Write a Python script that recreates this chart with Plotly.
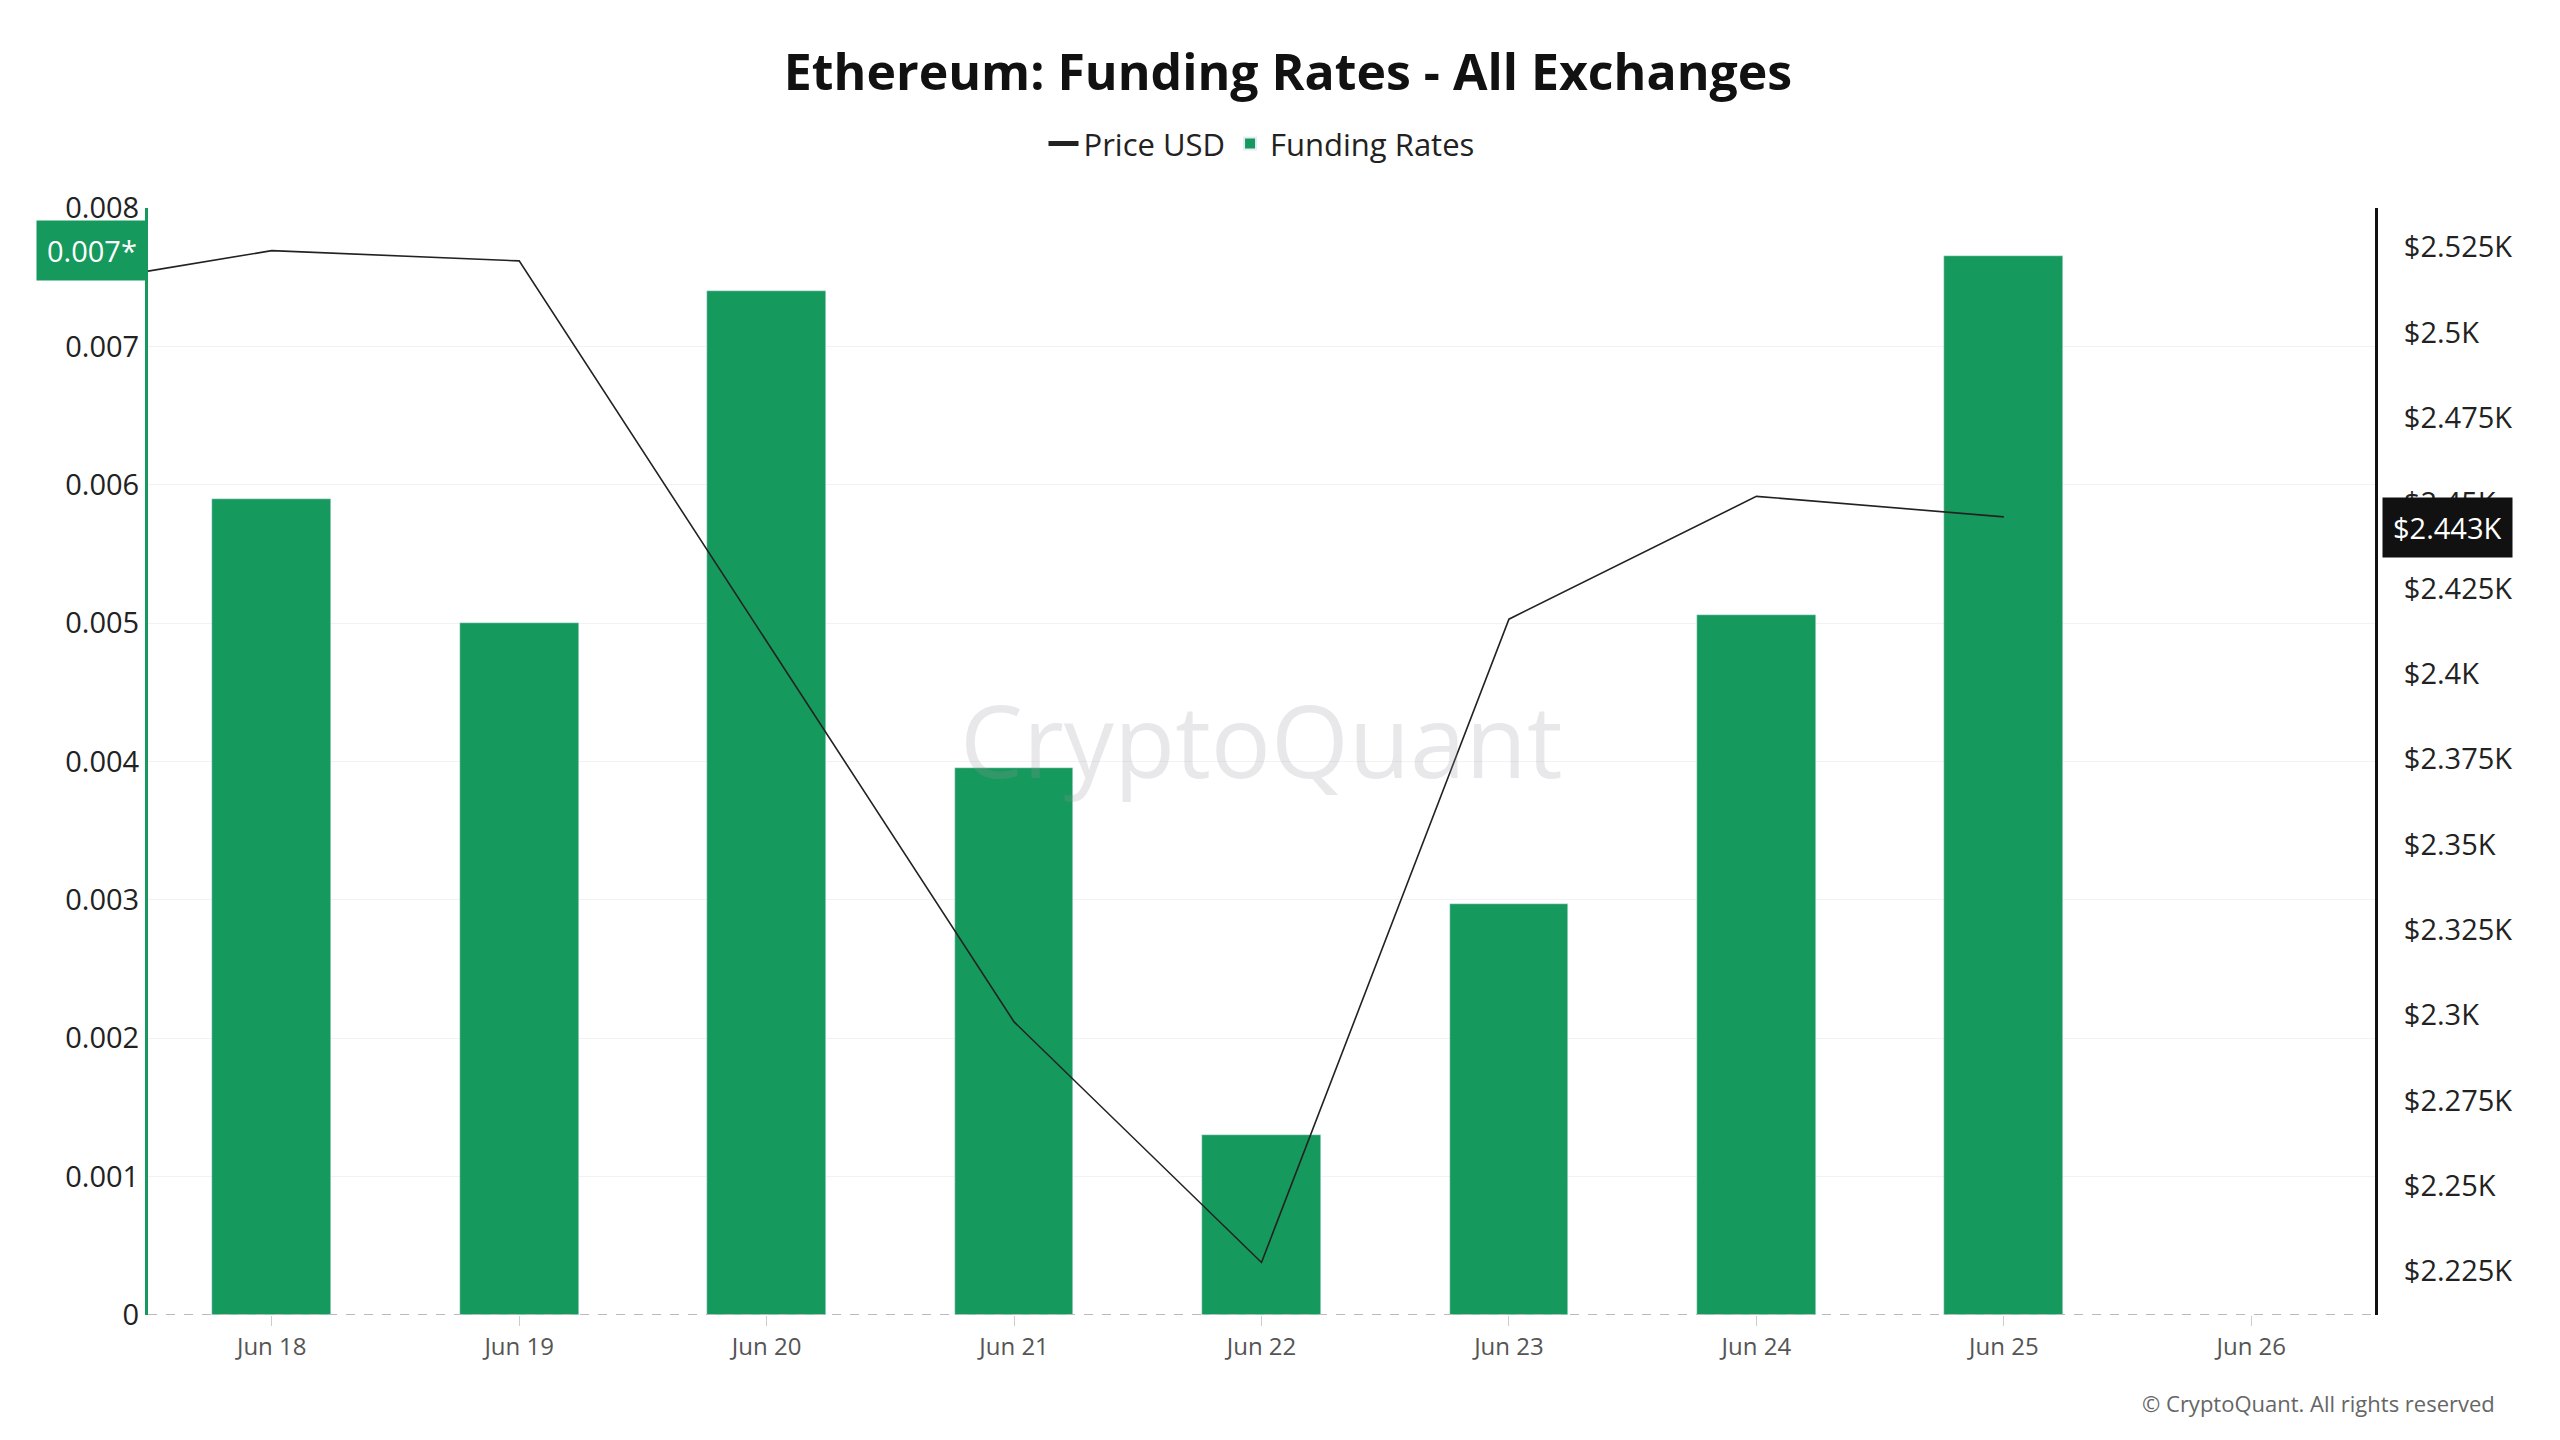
import plotly.graph_objects as go

bar_dates = ["2024-06-18","2024-06-19","2024-06-20","2024-06-21","2024-06-22","2024-06-23","2024-06-24","2024-06-25"]
funding = [0.0059, 0.0050, 0.0074, 0.00395, 0.0013, 0.00297, 0.00506, 0.00765]
price_dates = ["2024-06-17 12:00","2024-06-18","2024-06-19","2024-06-21","2024-06-22","2024-06-23","2024-06-24","2024-06-25"]
price = [2518, 2524, 2521, 2298, 2227.5, 2416, 2452, 2446]
left_ticks = [0,0.001,0.002,0.003,0.004,0.005,0.006,0.007,0.008]
left_text = ["0","0.001","0.002","0.003","0.004","0.005","0.006","0.007","0.008"]
right_ticks = [2225,2250,2275,2300,2325,2350,2375,2400,2425,2450,2475,2500,2525]
right_text = ["$2.225K","$2.25K","$2.275K","$2.3K","$2.325K","$2.35K","$2.375K","$2.4K","$2.425K","$2.45K","$2.475K","$2.5K","$2.525K"]
x_ticks = ["2024-06-18","2024-06-19","2024-06-20","2024-06-21","2024-06-22","2024-06-23","2024-06-24","2024-06-25","2024-06-26"]
x_text = ["Jun 18","Jun 19","Jun 20","Jun 21","Jun 22","Jun 23","Jun 24","Jun 25","Jun 26"]

green = "#16995c"
fig = go.Figure()
fig.add_trace(go.Scatter(x=price_dates, y=price, name="Price USD", mode="lines",
                         line=dict(color="#222", width=1.6), yaxis="y2"))
fig.add_trace(go.Bar(x=bar_dates, y=funding, name="Funding Rates", marker_color=green,
                     width=0.48*86400000))

font = "Open Sans"
fig.update_layout(
    width=2560, height=1440, paper_bgcolor="white", plot_bgcolor="white",
    margin=dict(l=140, r=193, t=200, b=133),
    font=dict(family=font, color="#222", size=28),
    title=dict(text="<b>Ethereum: Funding Rates - All Exchanges</b>", x=0.5, y=0.955,
               xanchor="center", yanchor="middle", font=dict(size=50, color="#111")),
    legend=dict(orientation="h", x=0.5, xanchor="center", y=1.058, yanchor="middle",
                font=dict(size=31), itemsizing="constant", traceorder="normal"),
    showlegend=True, bargap=0,
    xaxis=dict(range=["2024-06-17 12:00","2024-06-26 12:00"], tickvals=x_ticks, ticktext=x_text,
               tickfont=dict(size=24, color="#555"), showgrid=False, ticks="outside",
               ticklen=10, tickcolor="#ccc", showline=False, zeroline=False),
    yaxis=dict(range=[0,0.008], tickvals=left_ticks, ticktext=left_text, showgrid=True,
               gridcolor="#f2f2f2", showline=True, linecolor=green, linewidth=3,
               zeroline=False, tickfont=dict(size=29)),
    yaxis2=dict(overlaying="y", side="right", range=[2212.1,2536.5], tickvals=right_ticks,
                ticktext=right_text, showgrid=False, showline=True, linecolor="#111",
                linewidth=3, zeroline=False, tickfont=dict(size=29), ticklen=20,
                ticks="outside", tickcolor="rgba(0,0,0,0)"),
    shapes=[dict(type="line", xref="paper", yref="y", x0=0, x1=1, y0=0, y1=0,
                 line=dict(color="#bbb", width=2, dash="dash"))],
    annotations=[
        dict(text="CryptoQuant", xref="paper", yref="paper", x=0.5, y=0.52, showarrow=False,
             font=dict(size=100, color="rgba(150,150,160,0.22)")),
        dict(text="0.007*", xref="paper", yref="y", x=0, y=0.00769, xanchor="right",
             showarrow=False, bgcolor=green, font=dict(color="white", size=29), borderpad=10),
        dict(text="$2.443K", xref="paper", yref="y2", x=1.003, y=2443, xanchor="left",
             showarrow=False, bgcolor="#111", font=dict(color="white", size=29), borderpad=10),
        dict(text="© CryptoQuant. All rights reserved", xref="paper", yref="paper", x=1.055,
             y=-0.095, xanchor="right", showarrow=False, font=dict(size=22, color="#666")),
    ],
)
fig.write_html("out.html")
